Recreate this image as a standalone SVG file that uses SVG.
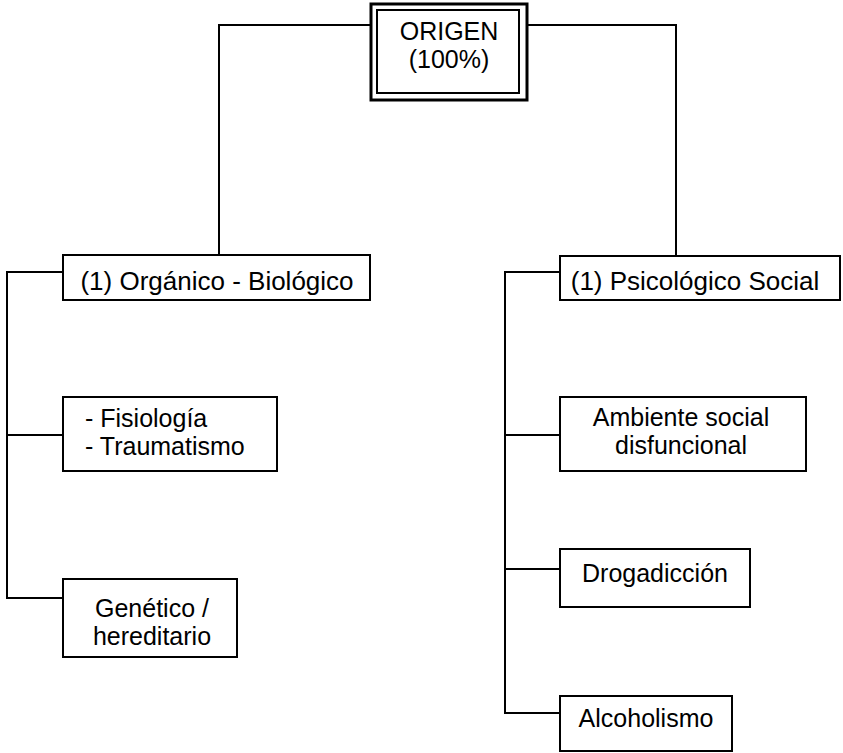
<svg xmlns="http://www.w3.org/2000/svg" width="843" height="753" viewBox="0 0 843 753">
<style>
.box{fill:#fff;stroke:#000;stroke-width:2}
.ln{fill:none;stroke:#000;stroke-width:2}
text{font-family:"Liberation Sans",Arial,sans-serif;font-size:25px;fill:#000}
.c{text-anchor:middle}
.big{font-size:26px}
</style>
<rect width="843" height="753" fill="#fff"/>
<g id="connectors">
<polyline class="ln" points="371,25 219,25 219,255"/>
<polyline class="ln" points="527,25 676,25 676,256"/>
<polyline class="ln" points="63,272 7,272 7,598 63,598"/>
<line class="ln" x1="7" y1="435" x2="63" y2="435"/>
<polyline class="ln" points="560,272 505,272 505,713 560,713"/>
<line class="ln" x1="505" y1="435" x2="560" y2="435"/>
<line class="ln" x1="505" y1="569" x2="560" y2="569"/>
</g>
<g id="origen">
<rect x="371" y="4" width="156" height="96" fill="#fff" stroke="#000" stroke-width="3"/>
<rect x="377" y="10" width="142" height="83" fill="none" stroke="#000" stroke-width="2"/>
<text class="c" x="449" y="40">ORIGEN</text>
<text class="c" x="449" y="68">(100%)</text>
</g>
<g id="organico">
<rect class="box" x="63" y="255" width="307" height="45"/>
<text class="c big" x="217" y="290">(1) Orgánico - Biológico</text>
</g>
<g id="psicologico">
<rect class="box" x="560" y="256" width="280" height="44"/>
<text class="c big" x="695" y="290">(1) Psicológico Social</text>
</g>
<g id="fisiologia">
<rect class="box" x="63" y="397" width="214" height="74"/>
<text x="85" y="427">- Fisiología</text>
<text x="85" y="455">- Traumatismo</text>
</g>
<g id="genetico">
<rect class="box" x="63" y="579" width="174" height="78"/>
<text class="c" x="152" y="617">Genético /</text>
<text class="c" x="152" y="645">hereditario</text>
</g>
<g id="ambiente">
<rect class="box" x="560" y="397" width="246" height="74"/>
<text class="c" x="681" y="426">Ambiente social</text>
<text class="c" x="681" y="454">disfuncional</text>
</g>
<g id="drogadiccion">
<rect class="box" x="560" y="549" width="190" height="58"/>
<text class="c" x="655" y="582">Drogadicción</text>
</g>
<g id="alcoholismo">
<rect class="box" x="560" y="696" width="172" height="55"/>
<text class="c" x="646" y="727">Alcoholismo</text>
</g>
</svg>
